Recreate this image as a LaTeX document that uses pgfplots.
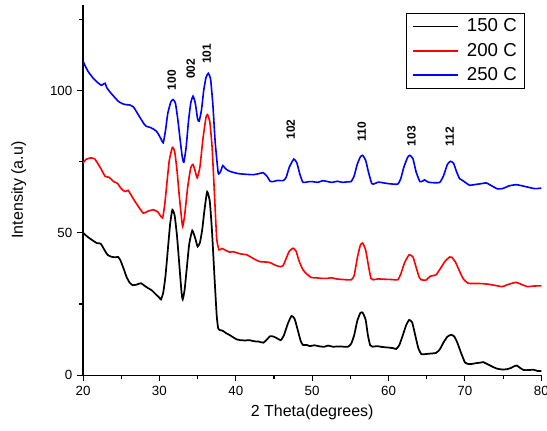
\documentclass[border=0pt]{standalone}
\usepackage{fontspec}
\setmainfont{Liberation Sans}
\usepackage{pgfplots}
\pgfplotsset{compat=1.18}

\begin{document}
\begin{tikzpicture}
\begin{axis}[name=ax, scale only axis, width=343.5pt, height=277.5pt,
  xmin=20, xmax=80, ymin=0, ymax=130,
  axis x line*=bottom, axis y line*=left,
  axis line style={line width=0.9pt},
  xtick={20,30,...,80}, minor xtick={25,35,...,75},
  ytick={0,50,100}, minor ytick={25,75,125},
  tick align=outside, major tick length=4.5pt, minor tick length=3pt,
  every tick/.style={line width=0.8pt, black},
  tick label style={font=\fontsize{10}{12}\selectfont},
  /pgf/number format/assume math mode=true,
  label style={font=\fontsize{12}{14}\selectfont},
  xlabel={2 Theta(degrees)}, ylabel={Intensity (a.u)}, ylabel shift=11pt,
  legend style={at={(0.965,0.978)}, anchor=north east, draw=black, line width=0.7pt,
    font=\fontsize{14}{16}\selectfont, row sep=3pt, inner xsep=4pt, inner ysep=2pt},
  legend cell align=left,
  legend image code/.code={\draw[#1, line width=1.2pt] (0pt,0pt) -- (34pt,0pt); \path (38pt,0pt);},
  every axis plot/.append style={smooth, tension=0.3}]

\addplot[black, line width=1.3pt] coordinates {(20,50) (20.5,48.8) (21,47.8) (21.8,46.4) (22.3,46.2) (22.8,44) (23.2,42.3) (23.7,41.6) (24.2,41.4) (24.6,41.5) (24.9,40.3) (25.3,37.5) (25.7,34.5) (26.1,32.5) (26.5,31.6) (27,31.8) (27.6,32.3) (28,31.5) (28.5,30.6) (29,29.8) (29.6,28.2) (30,27.2) (30.2,26.6) (30.5,29) (30.8,35) (31.1,44) (31.4,53) (31.7,58.1) (32,56) (32.3,49) (32.6,39) (32.9,29) (33.05,26.6) (33.3,30) (33.6,38) (33.9,46) (34.3,50.8) (34.7,48) (35,45.2) (35.3,46.5) (35.6,51) (35.9,58) (36.25,64.4) (36.6,61) (36.9,50) (37.2,35) (37.5,21) (37.7,16.4) (38,15.8) (38.3,15.6) (38.7,14.8) (39.2,14.1) (39.6,13.4) (40.1,12.6) (40.6,12.3) (41.2,12.2) (41.8,12.3) (42.4,11.9) (43,11.8) (43.6,11.4) (44,12.3) (44.5,13.7) (45,13.5) (45.5,12.8) (45.9,12.3) (46.3,14) (46.8,18) (47.3,20.8) (47.7,19.8) (48.1,16) (48.5,12) (48.8,10.6) (49.3,10.6) (49.7,10.2) (50.3,10.5) (51,10.1) (51.6,10) (52.1,10.4) (52.7,10) (53.5,10.1) (54.2,10) (54.7,10) (55.1,11) (55.5,14) (55.9,19) (56.3,21.8) (56.6,22) (57,19.5) (57.3,14) (57.6,10.5) (57.9,10) (58.5,10.2) (59.2,9.9) (60,9.7) (60.6,9.5) (61,9.2) (61.4,10.5) (61.8,13.5) (62.3,17.5) (62.7,19.4) (63.1,18.5) (63.5,14) (63.9,9.5) (64.3,7.4) (64.8,7.4) (65.5,7.6) (66.2,7.8) (66.7,9) (67.2,11.5) (67.7,13.5) (68.2,14.2) (68.6,13.6) (69,11.5) (69.5,7.8) (70,4.5) (70.3,4) (70.8,3.9) (71.4,4.2) (72,4.4) (72.4,4.6) (73,3.8) (73.6,3) (74.2,2.3) (74.9,2) (75.5,2.1) (76,2.5) (76.5,3.2) (76.8,3.4) (77.2,2.6) (77.7,1.8) (78.3,1.8) (79,1.9) (79.5,1.5) (80,1.5)};
\addlegendentry{150 C}

\addplot[red, line width=1.2pt] coordinates {(20,74.5) (20.4,75.8) (21,76.3) (21.5,76) (21.9,74.5) (22.4,72.2) (22.9,69.8) (23.4,69.5) (24,68) (24.5,67.4) (25,65.5) (25.5,64.5) (25.9,64.9) (26.3,63.2) (26.8,61) (27.3,59) (27.9,56.9) (28.5,57.6) (29.2,58.1) (29.8,57.3) (30.4,55.2) (30.7,60) (31,68) (31.3,75.5) (31.7,80) (32,78.5) (32.3,72) (32.6,63) (32.9,55) (33.05,52.2) (33.3,56) (33.7,66) (34.1,72.8) (34.4,74) (34.7,71.5) (34.95,69.3) (35.3,73) (35.7,83) (36.1,90.5) (36.3,91.5) (36.6,89) (36.9,80) (37.2,64) (37.5,48) (37.8,44) (38.2,44.5) (38.7,43.8) (39.2,43.2) (39.6,43.4) (40.1,43) (40.6,42.6) (41.4,42.3) (41.9,41.6) (42.4,40.8) (43.1,39.9) (43.6,39.8) (44.4,39.6) (45.2,38.6) (45.8,38.1) (46.2,38.5) (46.6,41) (47,43.5) (47.5,44.6) (47.9,43.5) (48.3,40) (48.8,37) (49.3,35.5) (49.9,34.3) (50.5,34.2) (51.2,34) (52,34) (52.5,34.2) (53.2,33.8) (54,33.6) (55.1,33.5) (55.5,35) (55.9,41) (56.3,45.6) (56.6,46.4) (57,44) (57.4,38) (57.7,34) (58,33.5) (58.6,33.8) (59.4,33.7) (60.4,33.6) (61.2,33.5) (61.6,35.5) (62.1,39.5) (62.7,42.3) (63.2,41.5) (63.6,38) (64,34.5) (64.3,33.5) (64.9,33.4) (65.5,34.8) (66.2,35.2) (66.8,37.5) (67.4,40) (68,41.5) (68.3,41.4) (68.8,39.5) (69.3,36.5) (69.8,33.8) (70.4,32.3) (71,32.2) (71.8,32.2) (72.5,32.1) (73.2,31.9) (74,31.5) (74.9,31.1) (75.5,31.7) (76.2,32.3) (76.7,32.6) (77.3,32) (78.2,31.1) (79,31.3) (80,31.4)};
\addlegendentry{200 C}

\addplot[blue, line width=1.2pt] coordinates {(20,110.3) (20.3,108.5) (20.7,106.5) (21.3,104.4) (21.8,103) (22.4,101.8) (22.7,102.3) (22.9,102.5) (23.1,101) (23.6,99.2) (24.2,97.4) (24.6,96.2) (25.1,95.4) (25.6,95) (26.1,94.9) (26.6,94.2) (27,92.5) (27.5,90.3) (28,88.2) (28.3,87.4) (28.8,87) (29.3,86.3) (29.6,85.7) (29.9,84.5) (30.2,83) (30.5,81.6) (30.8,86) (31.1,92) (31.5,96) (31.8,96.8) (32.1,95.5) (32.4,90) (32.7,83) (33,76.5) (33.2,74.8) (33.5,80) (33.8,89) (34.1,95.5) (34.4,98) (34.7,95.5) (35,90) (35.2,89.2) (35.5,93) (35.8,100) (36.1,104.5) (36.4,106) (36.7,104) (37,95) (37.3,82) (37.7,71) (38,71.5) (38.3,73.6) (38.7,72.4) (39.2,71.6) (39.7,71.2) (40.3,70.8) (41,70.6) (41.6,70.5) (42.3,70.4) (42.9,70.7) (43.6,71.1) (44.1,69.8) (44.5,68.1) (44.9,68) (45.5,68.4) (46.2,68.3) (46.6,69.5) (47,73) (47.6,75.9) (48,74.5) (48.4,70.5) (48.8,67.7) (49.4,67.9) (50,68) (50.7,67.7) (51.4,68.3) (52,68) (52.6,67.7) (53.3,68.1) (54,67.7) (54.6,67.9) (55.1,68) (55.5,70) (55.9,74) (56.3,76.6) (56.6,77.2) (57,75.5) (57.4,71) (57.8,67.3) (58,67.1) (58.7,67.8) (59.4,67.5) (60.2,67.2) (61.2,67.1) (61.6,69) (62,73) (62.5,76.5) (62.8,77.2) (63.2,76) (63.6,71.5) (64.1,68) (64.5,68.2) (64.7,68.6) (65.2,67.8) (65.8,67.6) (66.7,67.7) (67.2,70) (67.7,74) (68.1,75.1) (68.5,74.5) (68.9,71.5) (69.3,69) (69.5,68.7) (70,67.8) (70.6,66.7) (71.2,66.9) (72,67.2) (72.8,67.5) (73.5,66.5) (74.3,65.4) (75,65.6) (75.8,66.5) (76.7,66.9) (77.5,66.5) (78.3,66) (79.2,65.5) (80,65.7)};
\addlegendentry{250 C}

% peak labels
\begin{scope}[every node/.style={rotate=90, anchor=west, inner sep=0pt, font=\fontsize{9}{11}\selectfont\bfseries}]
\node at (axis cs:31.6,100) {100};
\node at (axis cs:34.1,104) {002};
\node at (axis cs:36.2,109.2) {101};
\node at (axis cs:47.2,82.7) {102};
\node at (axis cs:56.5,82) {110};
\node at (axis cs:63.0,80.3) {103};
\node at (axis cs:68.0,80.3) {112};
\end{scope}
\end{axis}
\pgfresetboundingbox
\path[use as bounding box] ([xshift=-62.25pt,yshift=-41.25pt]ax.south west) rectangle ([xshift=4.3pt,yshift=3.75pt]ax.north east);
\end{tikzpicture}
\end{document}
